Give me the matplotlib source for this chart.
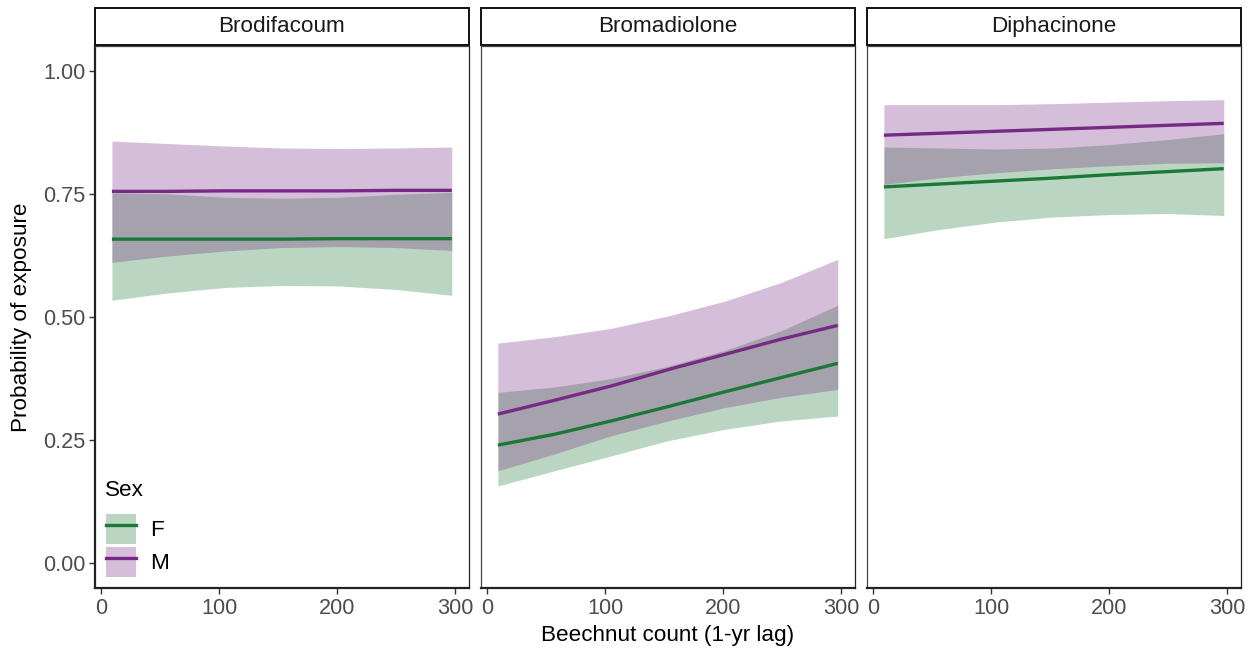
import numpy as np
import matplotlib.pyplot as plt
from matplotlib.patches import Rectangle, Patch
from matplotlib.lines import Line2D

plt.rcParams['font.family'] = ['Liberation Sans', 'DejaVu Sans']

# ============================================================
# Data
# ============================================================
panels = ['Brodifacoum', 'Bromadiolone', 'Diphacinone']
beechnut = [9, 57, 105, 153, 201, 249, 297]

# Brodifacoum
brod_f_est = [0.658, 0.658, 0.658, 0.658, 0.659, 0.659, 0.659]
brod_f_low = [0.534, 0.549, 0.560, 0.564, 0.563, 0.556, 0.544]
brod_f_up = [0.752, 0.750, 0.743, 0.741, 0.743, 0.749, 0.753]
brod_m_est = [0.755, 0.755, 0.756, 0.756, 0.756, 0.757, 0.757]
brod_m_low = [0.611, 0.624, 0.634, 0.641, 0.643, 0.641, 0.635]
brod_m_up = [0.857, 0.852, 0.847, 0.843, 0.842, 0.843, 0.845]

# Bromadiolone
brom_f_est = [0.240, 0.262, 0.289, 0.318, 0.348, 0.377, 0.406]
brom_f_low = [0.157, 0.188, 0.218, 0.249, 0.272, 0.289, 0.299]
brom_f_up = [0.347, 0.358, 0.375, 0.400, 0.432, 0.472, 0.524]
brom_m_est = [0.303, 0.331, 0.360, 0.393, 0.424, 0.455, 0.483]
brom_m_low = [0.188, 0.222, 0.259, 0.289, 0.316, 0.337, 0.353]
brom_m_up = [0.447, 0.460, 0.477, 0.502, 0.532, 0.570, 0.617]

# Diphacinone
diph_f_est = [0.764, 0.770, 0.776, 0.782, 0.789, 0.795, 0.801]
diph_f_low = [0.659, 0.678, 0.693, 0.703, 0.708, 0.710, 0.706]
diph_f_up = [0.845, 0.843, 0.841, 0.843, 0.850, 0.860, 0.872]
diph_m_est = [0.869, 0.873, 0.877, 0.881, 0.885, 0.889, 0.893]
diph_m_low = [0.769, 0.783, 0.793, 0.801, 0.807, 0.812, 0.813]
diph_m_up = [0.931, 0.931, 0.931, 0.933, 0.936, 0.939, 0.941]

curves = {
    'Brodifacoum': {'F': (brod_f_est, brod_f_low, brod_f_up),
                    'M': (brod_m_est, brod_m_low, brod_m_up)},
    'Bromadiolone': {'F': (brom_f_est, brom_f_low, brom_f_up),
                     'M': (brom_m_est, brom_m_low, brom_m_up)},
    'Diphacinone': {'F': (diph_f_est, diph_f_low, diph_f_up),
                    'M': (diph_m_est, diph_m_low, diph_m_up)},
}

sex_levels = ['F', 'M']
sex_colors = {'F': '#1b7837', 'M': '#762a83'}
FILL_ALPHA = 0.3

# ============================================================
# Layout
# ============================================================
W, H = 1255, 651
fig = plt.figure(figsize=(W / 100, H / 100), dpi=100)

panel_lefts = [95, 481, 867]
panel_w = 374
ax_top, ax_bot = 46, 588
strip_top = 8

TXT = 16.2
TICK_TXT = 15.6
GREY_TXT = '#4d4d4d'

axes = []
for i, name in enumerate(panels):
    left = panel_lefts[i]
    ax = fig.add_axes([left / W, 1 - ax_bot / H, panel_w / W, (ax_bot - ax_top) / H])
    axes.append(ax)

    # ribbons first (F then M), then lines on top
    for sex in sex_levels:
        est, low, up = curves[name][sex]
        ax.fill_between(beechnut, low, up, color=sex_colors[sex], alpha=FILL_ALPHA,
                        lw=0)
    for sex in sex_levels:
        est, low, up = curves[name][sex]
        ax.plot(beechnut, est, color=sex_colors[sex], lw=2.4, solid_capstyle='butt')

    ax.set_xlim(-5.3, 311.6)
    ax.set_ylim(-0.05, 1.05)
    ax.set_xticks([0, 100, 200, 300])
    ax.set_yticks([0, 0.25, 0.5, 0.75, 1.0])
    ax.set_yticklabels(['0.00', '0.25', '0.50', '0.75', '1.00'])

    for s in ax.spines.values():
        s.set_linewidth(0.9)
        s.set_color('#444444')
    ax.spines['bottom'].set_linewidth(1.6)
    ax.spines['bottom'].set_color('#222222')
    ax.spines['right'].set_color('#222222')
    ax.tick_params(axis='x', length=4, width=1.0, color='#333333',
                   labelsize=TICK_TXT, labelcolor=GREY_TXT, pad=3)
    if i == 0:
        ax.spines['left'].set_linewidth(1.6)
        ax.spines['left'].set_color('#222222')
        ax.tick_params(axis='y', length=4, width=1.0, color='#333333',
                       labelsize=TICK_TXT, labelcolor=GREY_TXT, pad=3)
    else:
        ax.tick_params(axis='y', left=False, labelleft=False)

    # facet strip
    strip = Rectangle((left / W, 1 - 45 / H), panel_w / W, (45 - strip_top) / H,
                      transform=fig.transFigure, facecolor='white',
                      edgecolor='#111111', lw=1.4)
    fig.patches.append(strip)
    fig.text((left + panel_w / 2) / W, 1 - 26.5 / H, name, ha='center', va='center',
             fontsize=TXT, color='#1a1a1a')

fig.text(668 / W, 1 - 636 / H, 'Beechnut count (1-yr lag)', ha='center', va='center',
         fontsize=TXT, color='black')
fig.text(22 / W, 1 - 317 / H, 'Probability of exposure', ha='center', va='center',
         rotation=90, fontsize=TXT, color='black')

# legend
handles = []
for sex in sex_levels:
    handles.append((Patch(facecolor=sex_colors[sex], alpha=FILL_ALPHA, lw=0),
                    Line2D([], [], color=sex_colors[sex], lw=2.4)))
leg = axes[0].legend(handles, sex_levels, loc='lower left',
                     bbox_to_anchor=(106 / W, 1 - 577 / H), bbox_transform=fig.transFigure,
                     frameon=False, fontsize=TXT,
                     handlelength=1.33, handleheight=1.68, handletextpad=0.62,
                     labelspacing=0.13, borderpad=0, borderaxespad=0)
fig.text(105 / W, 1 - 491 / H, 'Sex', ha='left', va='center', fontsize=TXT, color='black')

fig.savefig('out.png', dpi=100, facecolor='white')
